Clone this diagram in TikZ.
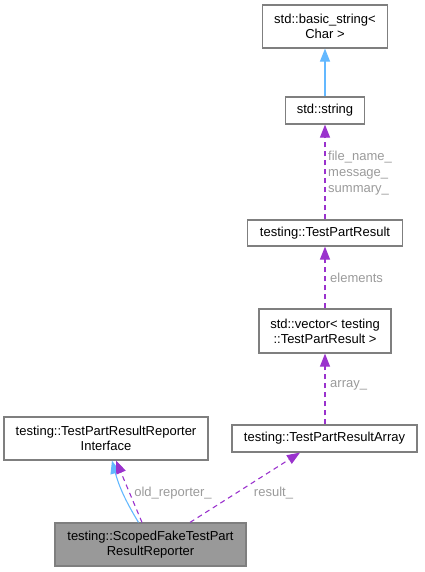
\documentclass[tikz,border=0pt]{standalone}
\usepackage{fontspec}
\setmainfont{Liberation Sans}
\usetikzlibrary{arrows.meta}
\definecolor{inhblue}{HTML}{63B8FF}
\definecolor{usepurple}{HTML}{9A32CD}
\definecolor{lblgray}{HTML}{9A9A9A}
\definecolor{boxgray}{HTML}{999999}
\definecolor{bordergray}{HTML}{7F7F7F}
\begin{document}
\begin{tikzpicture}[x=1pt, y=-1pt,
    cls/.style={draw=bordergray, line width=1.2pt, fill=white, align=center, inner sep=0pt,
        font=\fontsize{13}{15}\selectfont},
    inh/.style={inhblue, line width=1.1pt, -{Triangle[length=13pt, width=10pt]}},
    usedby/.style={usepurple, line width=1.1pt, dash pattern=on 5pt off 4pt,
        -{Triangle[length=13pt, width=10pt]}},
    lbl/.style={lblgray, align=left, inner sep=0pt, font=\fontsize{13}{16}\selectfont}]
    \useasboundingbox (0,0) rectangle (424,572);

    % Classes
    \node[cls, minimum width=125pt, minimum height=43pt] (basicstr) at (325,26.5) {std::basic\_string<\\Char >};
    \node[cls, minimum width=79pt, minimum height=27pt] (stdstr) at (325,110.5) {std::string};
    \node[cls, minimum width=155pt, minimum height=26pt] (tpr) at (325,233) {testing::TestPartResult};
    \node[cls, minimum width=132pt, minimum height=44pt] (tprvec) at (325,331) {std::vector< testing\\::TestPartResult >};
    \node[cls, minimum width=185pt, minimum height=27pt] (tprarray) at (324.5,438.5) {testing::TestPartResultArray};
    \node[cls, minimum width=204pt, minimum height=43pt] (reporteriface) at (106,438.5) {testing::TestPartResultReporter\\Interface};
    \node[cls, fill=boxgray, minimum width=191pt, minimum height=43pt] (scoped) at (150.5,544.5) {testing::ScopedFakeTestPart\\ResultReporter};

    % Inheritance
    \draw[inh] (stdstr) -- (basicstr);
    \draw[inh] ([xshift=-12pt]scoped.north) to[bend left=8] ([xshift=6pt]reporteriface.south);

    % Members
    \draw[usedby] (tpr) -- (stdstr);
    \node[lbl, anchor=west] (strlbl) at (328,173) {file\_name\_\\message\_\\summary\_};
    \draw[usedby] (tprvec) -- (tpr);
    \node[lbl, anchor=west] (elemlbl) at (330,278) {elements};
    \draw[usedby] ([xshift=0.5pt]tprarray.north) -- (tprvec);
    \node[lbl, anchor=west] (arraylbl) at (330,385) {array\_};
    \draw[usedby] ([xshift=-8.5pt]scoped.north) -- ([xshift=10pt]reporteriface.south);
    \node[lbl] (oldlbl) at (173,493) {old\_reporter\_};
    \draw[usedby] ([xshift=39.5pt]scoped.north) -- ([xshift=-24.5pt]tprarray.south);
    \node[lbl] (resultlbl) at (273.5,493) {result\_};
\end{tikzpicture}
\end{document}
